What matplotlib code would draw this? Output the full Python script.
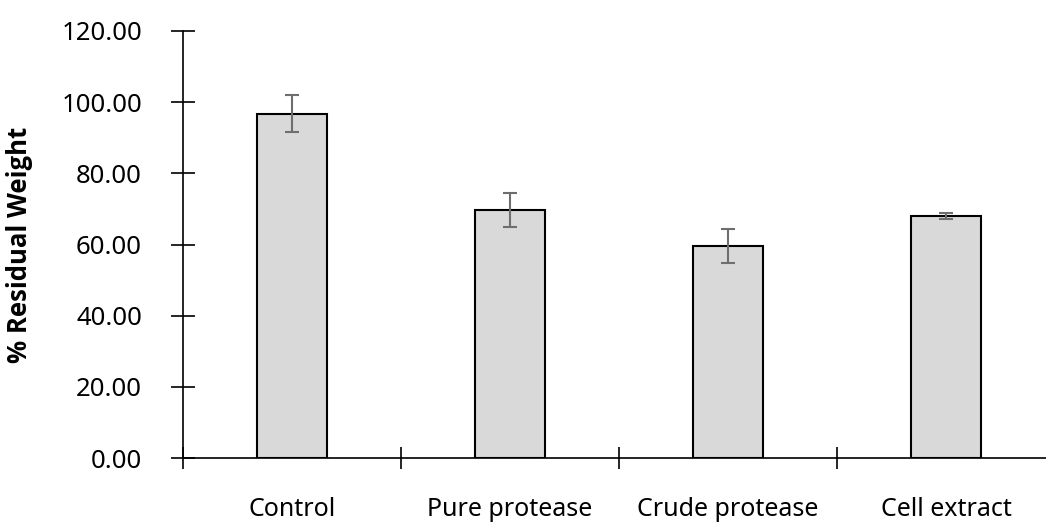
import matplotlib
matplotlib.use("Agg")
import matplotlib.pyplot as plt
import numpy as np

categories = ["Control", "Pure protease", "Crude protease", "Cell extract"]
residual = [96.8, 69.6, 59.5, 68.0]
errors = [5.3, 4.8, 4.8, 0.8]
yticks = [0, 20, 40, 60, 80, 100, 120]

plt.rcParams['font.family'] = ['Noto Sans', 'DejaVu Sans']

fig = plt.figure(figsize=(10.46, 5.23), dpi=100)
ax = fig.add_axes([183/1046, 65/523, 872/1046, 427/523])

x = np.arange(len(categories))
ax.bar(x, residual, width=0.317, color="#d9d9d9", edgecolor="black", linewidth=1.5, zorder=2)
ax.errorbar(x, residual, yerr=errors, fmt="none", ecolor="#6e6e6e",
            elinewidth=1.5, capsize=5, capthick=1.5, zorder=3)

ax.set_xlim(-0.5, 3.5)
ax.set_ylim(0, 120)

for s in ["top", "right"]:
    ax.spines[s].set_visible(False)
ax.spines["left"].set_linewidth(1.2)
ax.spines["bottom"].set_linewidth(1.2)

ax.set_yticks(yticks)
ax.set_yticklabels([f"{v:.2f}" for v in yticks])
ax.tick_params(axis="y", direction="inout", length=17, width=1.2, pad=21, labelsize=18.5)

ax.set_xticks(np.arange(-0.5, 4.0, 1.0))
ax.set_xticklabels([])
ax.set_xticks(x, minor=True)
ax.set_xticklabels(categories, minor=True)
ax.tick_params(axis="x", which="major", direction="inout", length=16, width=1.2)
ax.tick_params(axis="x", which="minor", length=0, pad=28, labelsize=18)

ax.set_ylabel("% Residual Weight", fontsize=18.5, fontweight="bold",
              family=["Open Sans", "DejaVu Sans"])
ax.yaxis.set_label_coords(-0.172, 0.5)

fig.savefig("out.png", dpi=100)
